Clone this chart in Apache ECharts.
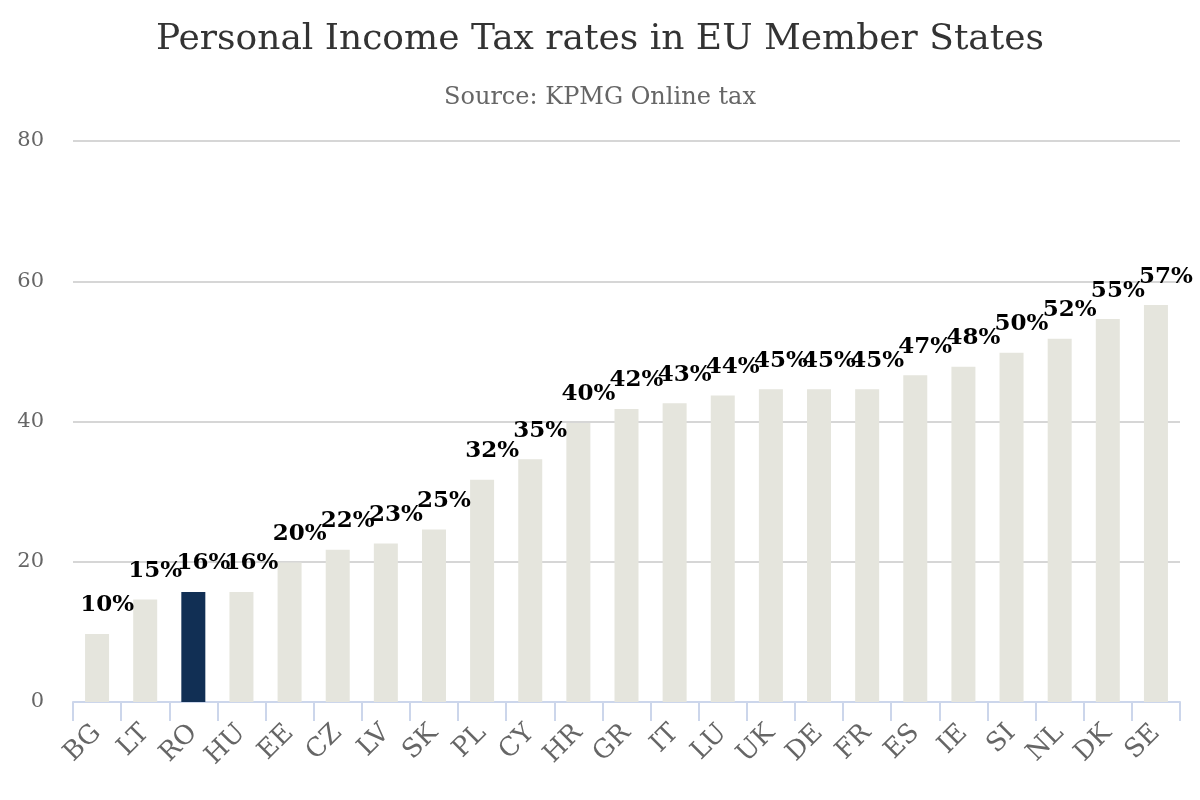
<!DOCTYPE html>
<html><head><meta charset="utf-8">
<script src="https://cdn.jsdelivr.net/npm/echarts@6/dist/echarts.min.js"></script>
<style>html,body{margin:0;padding:0;background:#fff}#c{width:1200px;height:800px}</style>
</head><body><div id="c"></div>
<script>
const categories = ['BG','LT','RO','HU','EE','CZ','LV','SK','PL','CY','HR','GR','IT','LU','UK','DE','FR','ES','IE','SI','NL','DK','SE'];
const values = [9.7,14.6,15.7,15.7,19.9,21.7,22.6,24.6,31.7,34.6,39.8,41.8,42.6,43.7,44.6,44.6,44.6,46.6,47.8,49.8,51.8,54.6,56.6];
const highlight = 'RO';
const yTicks = [0,20,40,60,80];
const font = '"DejaVu Serif", serif';
const chart = echarts.init(document.getElementById('c'));
chart.setOption({
  animation:false,
  textStyle:{fontFamily:font},
  title:{
    text:'Personal Income Tax rates in EU Member States',
    subtext:'Source: KPMG Online tax',
    left:'center', top:17, itemGap:28,
    textStyle:{fontFamily:font,fontSize:36,fontWeight:'normal',color:'#333'},
    subtextStyle:{fontFamily:font,fontSize:24,color:'#666'}
  },
  grid:{left:73,right:20,top:141,bottom:98,containLabel:false},
  xAxis:{
    type:'category', data:categories,
    axisLine:{lineStyle:{color:'#ccd6eb',width:2}},
    axisTick:{show:true,length:19,lineStyle:{color:'#ccd6eb',width:2},alignWithLabel:false},
    axisLabel:{rotate:45,fontFamily:font,fontSize:26,color:'#666',margin:27,interval:0}
  },
  yAxis:{
    type:'value', min:yTicks[0], max:yTicks[yTicks.length-1], interval:20,
    axisLine:{show:false}, axisTick:{show:false},
    splitLine:{lineStyle:{color:'#d6d6d6',width:2}},
    axisLabel:{fontFamily:font,fontSize:21,color:'#666',margin:29}
  },
  series:[{
    type:'bar', barWidth:24,
    data:values.map((v,i)=>({value:v,itemStyle:{color:categories[i]===highlight?'#112f54':'#e5e5dd'}})),
    label:{show:true,position:'top',distance:5,offset:[10,-12],
      fontFamily:font,fontSize:23,fontWeight:'bold',color:'#000',
      formatter:p=>Math.round(p.value)+'%'}
  }]
});
</script></body></html>
